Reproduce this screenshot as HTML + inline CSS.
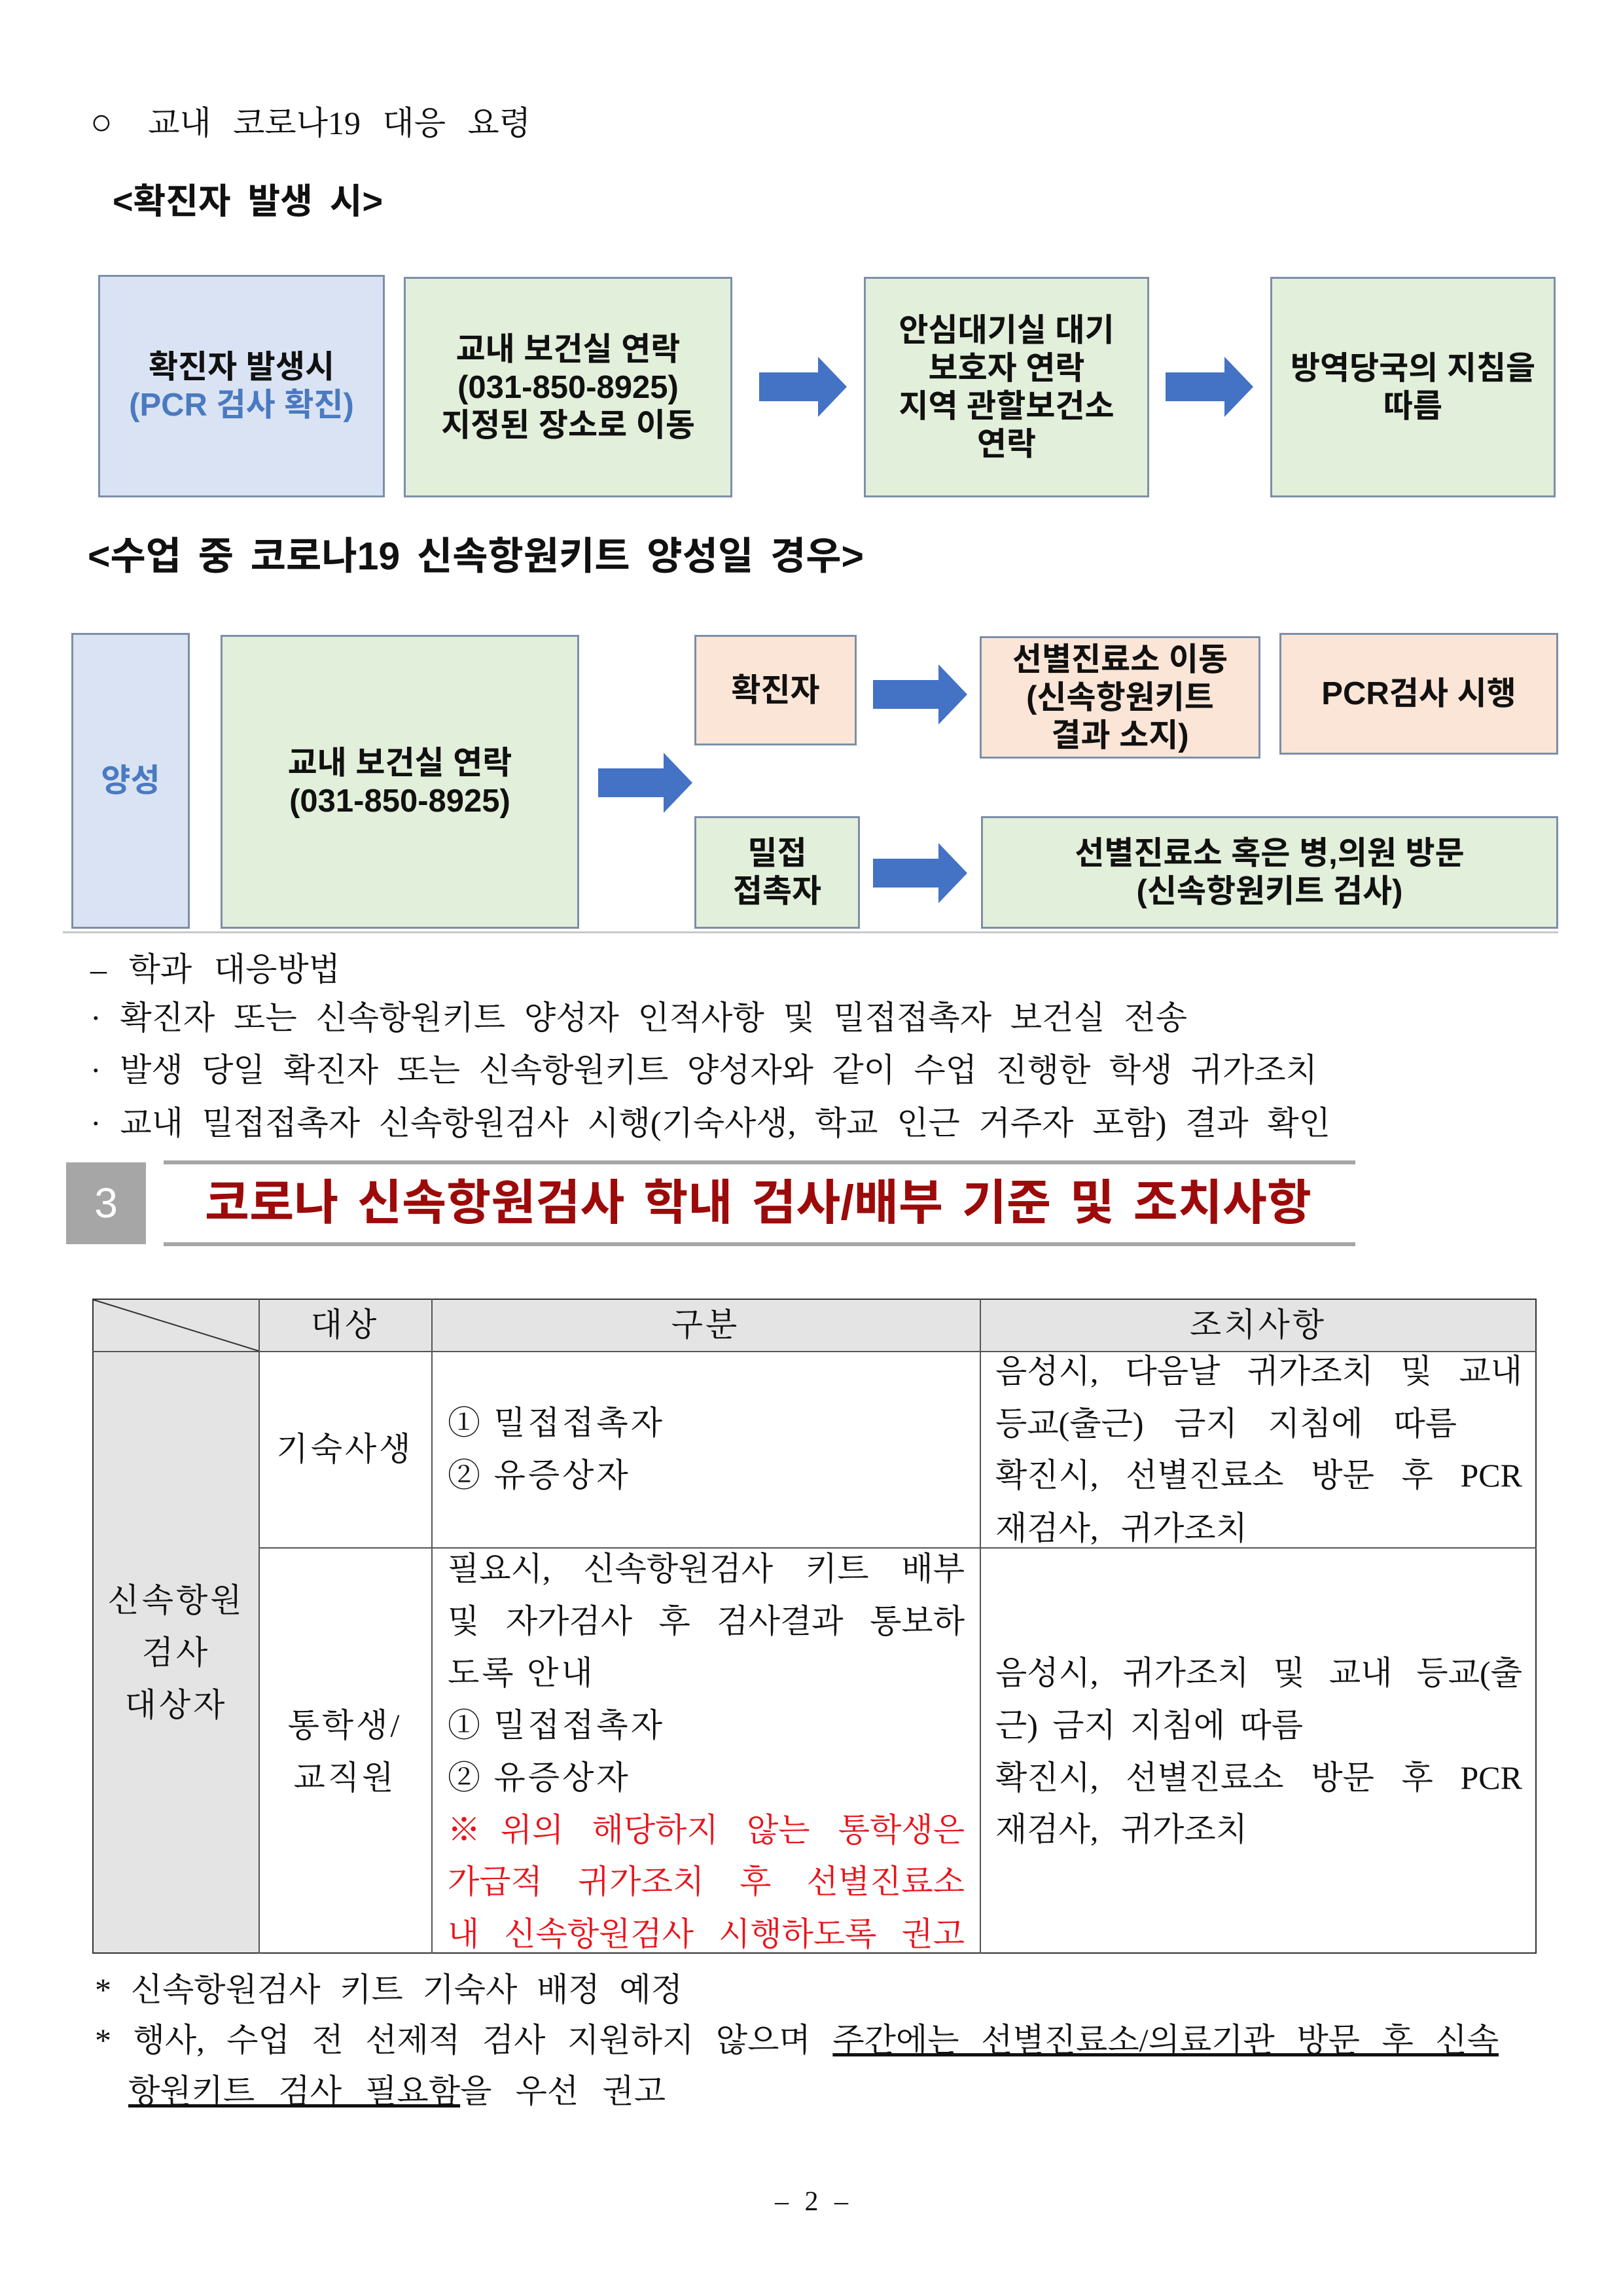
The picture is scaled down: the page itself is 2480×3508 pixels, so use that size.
<!DOCTYPE html>
<html><head><meta charset="utf-8"><style>
body{margin:0;width:2480px;height:3508px;position:relative;background:#fff;overflow:hidden}
.a{position:absolute}
.s{font-family:"Liberation Sans","Noto Sans CJK KR",sans-serif;font-weight:bold;color:#111}
.r{font-family:"Liberation Serif","Noto Serif CJK SC",serif;color:#111}
.bx{position:absolute;box-sizing:border-box;border:3px solid #7d8fa8;display:flex;align-items:center;justify-content:center;text-align:center;font-family:"Liberation Sans","Noto Sans CJK KR",sans-serif;font-weight:bold;font-size:49px;line-height:58px;color:#111}
.g{background:#e2efda}.b{background:#dae3f3}.p{background:#fbe5d6}
.l{position:absolute;font-family:"Liberation Serif","Noto Serif CJK SC",serif;font-size:50px;line-height:80px;white-space:nowrap;color:#111}
.j{text-align:justify;text-align-last:justify;white-space:normal}
.sp{letter-spacing:4px}
</style></head><body>

<div class="a r j" style="left:138px;top:148px;font-size:50px;width:673px"><span style="font-size:56px">○</span> 교내 코로나19 대응 요령</div>
<div class="a s j" style="left:172px;top:263px;font-size:54px;width:413px">&lt;확진자 발생 시&gt;</div>

<div class="bx b" style="left:150px;top:420px;width:438px;height:340px"><div>확진자 발생시<br><span style="color:#4a7ac0">(PCR 검사 확진)</span></div></div>
<div class="bx g" style="left:617px;top:423px;width:502px;height:337px"><div>교내 보건실 연락<br>(031-850-8925)<br>지정된 장소로 이동</div></div>
<svg class="a" style="left:1160px;top:545px" width="136" height="92"><polygon points="0,24 90,24 90,0 134,46 90,92 90,68 0,68" fill="#4472c4"/></svg>
<div class="bx g" style="left:1320px;top:423px;width:436px;height:337px"><div>안심대기실 대기<br>보호자 연락<br>지역 관할보건소<br>연락</div></div>
<svg class="a" style="left:1781px;top:545px" width="136" height="92"><polygon points="0,24 90,24 90,0 134,46 90,92 90,68 0,68" fill="#4472c4"/></svg>
<div class="bx g" style="left:1941px;top:423px;width:436px;height:337px"><div>방역당국의 지침을<br>따름</div></div>

<div class="a s j" style="left:134px;top:802px;font-size:59px;width:1186px">&lt;수업 중 코로나19 신속항원키트 양성일 경우&gt;</div>

<div class="bx b" style="left:109px;top:967px;width:181px;height:452px;color:#4a7ac0">양성</div>
<div class="bx g" style="left:337px;top:970px;width:548px;height:449px"><div>교내 보건실 연락<br>(031-850-8925)</div></div>
<svg class="a" style="left:914px;top:1150px" width="146" height="92"><polygon points="0,24 100,24 100,0 144,46 100,92 100,68 0,68" fill="#4472c4"/></svg>
<div class="bx p" style="left:1061px;top:970px;width:248px;height:169px">확진자</div>
<svg class="a" style="left:1334px;top:1015px" width="146" height="92"><polygon points="0,24 100,24 100,0 144,46 100,92 100,68 0,68" fill="#4472c4"/></svg>
<div class="bx p" style="left:1497px;top:972px;width:429px;height:187px"><div>선별진료소 이동<br>(신속항원키트<br>결과 소지)</div></div>
<div class="bx p" style="left:1955px;top:967px;width:426px;height:186px">PCR검사 시행</div>
<div class="bx g" style="left:1061px;top:1247px;width:253px;height:172px"><div>밀접<br>접촉자</div></div>
<svg class="a" style="left:1334px;top:1288px" width="146" height="92"><polygon points="0,24 100,24 100,0 144,46 100,92 100,68 0,68" fill="#4472c4"/></svg>
<div class="bx g" style="left:1499px;top:1247px;width:882px;height:172px"><div>선별진료소 혹은 병,의원 방문<br>(신속항원키트 검사)</div></div>
<div class="a" style="left:96px;top:1423px;width:2285px;height:3px;background:#c8c8c8"></div>

<div class="l j" style="left:138px;top:1441px;width:382px">– 학과 대응방법</div>
<div class="l j" style="left:138px;top:1515px;width:1676px">· 확진자 또는 신속항원키트 양성자 인적사항 및 밀접접촉자 보건실 전송</div>
<div class="l j" style="left:138px;top:1595px;width:1875px">· 발생 당일 확진자 또는 신속항원키트 양성자와 같이 수업 진행한 학생 귀가조치</div>
<div class="l j" style="left:138px;top:1676px;width:1895px">· 교내 밀접접촉자 신속항원검사 시행(기숙사생, 학교 인근 거주자 포함) 결과 확인</div>

<div class="a" style="left:101px;top:1776px;width:122px;height:125px;background:#a6a6a6;color:#fff;font-family:'Liberation Sans',sans-serif;font-size:64px;line-height:125px;text-align:center">3</div>
<div class="a" style="left:250px;top:1773px;width:1821px;height:6px;background:#a6a6a6"></div>
<div class="a" style="left:250px;top:1898px;width:1821px;height:6px;background:#a6a6a6"></div>
<div class="a s j" style="left:313px;top:1790px;font-size:74px;color:#9c0a0a;line-height:96px;width:1691px">코로나 신속항원검사 학내 검사/배부 기준 및 조치사항</div>

<!-- table -->
<div class="a" style="left:141px;top:1984px;width:2207px;height:1001px;border:2px solid #333;box-sizing:border-box"></div>
<div class="a" style="left:143px;top:1986px;width:2203px;height:78px;background:#e4e4e4"></div>
<div class="a" style="left:143px;top:2064px;width:252px;height:919px;background:#e4e4e4"></div>
<div class="a" style="left:141px;top:2064px;width:2207px;height:2px;background:#555"></div>
<div class="a" style="left:395px;top:2364px;width:1953px;height:2px;background:#555"></div>
<div class="a" style="left:395px;top:1984px;width:2px;height:1001px;background:#555"></div>
<div class="a" style="left:659px;top:1984px;width:2px;height:1001px;background:#555"></div>
<div class="a" style="left:1497px;top:1984px;width:2px;height:1001px;background:#555"></div>
<svg class="a" style="left:141px;top:1984px" width="256" height="82"><line x1="2" y1="2" x2="254" y2="80" stroke="#333" stroke-width="2"/></svg>

<div class="l sp" style="left:395px;top:1984px;width:264px;text-align:center">대상</div>
<div class="l sp" style="left:659px;top:1984px;width:838px;text-align:center">구분</div>
<div class="l sp" style="left:1497px;top:1984px;width:851px;text-align:center">조치사항</div>

<div class="l sp" style="left:143px;top:2405px;width:252px;text-align:center">신속항원<br>검사<br>대상자</div>
<div class="l sp" style="left:395px;top:2174px;width:264px;text-align:center">기숙사생</div>
<div class="l sp" style="left:395px;top:2596px;width:264px;text-align:center">통학생/<br>교직원</div>

<div class="l sp" style="left:684px;top:2134px">① 밀접접촉자<br>② 유증상자</div>
<div class="l j" style="left:1521px;top:2055px;width:805px">음성시, 다음날 귀가조치 및 교내</div>
<div class="l j" style="left:1521px;top:2135px;width:705px">등교(출근) 금지 지침에 따름</div>
<div class="l j" style="left:1521px;top:2214px;width:805px">확진시, 선별진료소 방문 후 PCR</div>
<div class="l j" style="left:1521px;top:2295px;width:385px">재검사, 귀가조치</div>

<div class="l j" style="left:684px;top:2357px;width:790px">필요시, 신속항원검사 키트 배부</div>
<div class="l j" style="left:684px;top:2437px;width:790px">및 자가검사 후 검사결과 통보하</div>
<div class="l sp" style="left:684px;top:2516px">도록 안내</div>
<div class="l sp" style="left:684px;top:2596px">① 밀접접촉자<br>② 유증상자</div>
<div class="l j" style="left:684px;top:2756px;width:790px;color:#e8141b">※위의 해당하지 않는 통학생은</div>
<div class="l j" style="left:684px;top:2835px;width:790px;color:#e8141b">가급적 귀가조치 후 선별진료소</div>
<div class="l j" style="left:684px;top:2915px;width:790px;color:#e8141b">내 신속항원검사 시행하도록 권고</div>

<div class="l j" style="left:1521px;top:2516px;width:805px">음성시, 귀가조치 및 교내 등교(출</div>
<div class="l j" style="left:1521px;top:2596px;width:470px">근) 금지 지침에 따름</div>
<div class="l j" style="left:1521px;top:2676px;width:805px">확진시, 선별진료소 방문 후 PCR</div>
<div class="l j" style="left:1521px;top:2755px;width:385px">재검사, 귀가조치</div>

<div class="l j" style="left:145px;top:3000px;width:898px">* 신속항원검사 키트 기숙사 배정 예정</div>
<div class="l j" style="left:145px;top:3077px;width:2145px">* 행사, 수업 전 선제적 검사 지원하지 않으며 <u>주간에는 선별진료소/의료기관 방문 후 신속</u></div>
<div class="l j" style="left:196px;top:3155px;width:821px"><u>항원키트 검사 필요함</u>을 우선 권고</div>

<div class="l" style="left:1140px;top:3324px;width:200px;text-align:center;font-size:42px;word-spacing:14px">– 2 –</div>
</body></html>
